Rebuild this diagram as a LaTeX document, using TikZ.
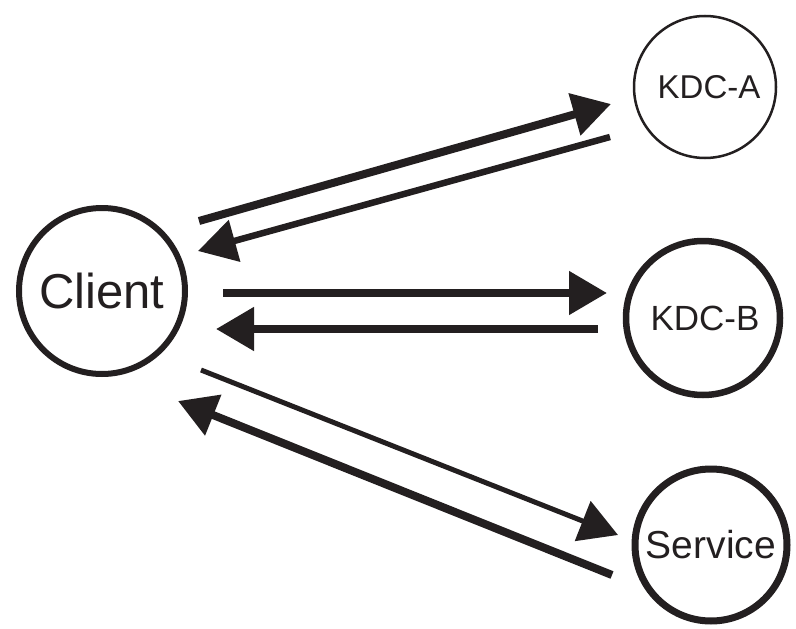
\documentclass[tikz,border=0pt]{standalone}
\usepackage{fontspec}
\setmainfont{Liberation Sans}
\usetikzlibrary{arrows.meta}
\definecolor{ink}{RGB}{35,31,32}
\tikzset{
  host/.style={circle,draw=ink,text=ink,line width=6pt,inner sep=0pt},
  msg/.style={draw=ink,line width=8pt,-{Triangle[length=38pt,width=42pt]}},
}

\begin{document}
\begin{tikzpicture}[x=1pt,y=-1pt]
\useasboundingbox (0,0) rectangle (796,629);
% hosts
\node[host,minimum size=166pt,font=\fontsize{49}{49}\selectfont] (client) at (102,291) {Client};
\node[host,line width=2.5pt,minimum size=142pt,font=\fontsize{33}{33}\selectfont] (kdca) at (705,87) {\hspace{8pt}KDC-A};
\node[host,line width=6.5pt,minimum size=154pt,font=\fontsize{35}{35}\selectfont] (kdcb) at (703,318) {\hspace{4pt}KDC-B};
\node[host,line width=7pt,minimum size=152pt,font=\fontsize{39}{39}\selectfont] (service) at (711,545) {Service};
% ends of the messages
\coordinate (a1s) at ([shift={(97,-70)}]client.center);
\coordinate (a1e) at ([shift={(-94,17)}]kdca.center);
\coordinate (a2s) at ([shift={(-95,50)}]kdca.center);
\coordinate (a2e) at ([shift={(96,-40)}]client.center);
\coordinate (a3s) at ([shift={(121,2)}]client.center);
\coordinate (a3e) at ([shift={(-96,-25)}]kdcb.center);
\coordinate (a4s) at ([shift={(-105,11)}]kdcb.center);
\coordinate (a4e) at ([shift={(114,38)}]client.center);
\coordinate (a5s) at ([shift={(99,79)}]client.center);
\coordinate (a5e) at ([shift={(-93,-10)}]service.center);
\coordinate (a6s) at ([shift={(-99,30)}]service.center);
\coordinate (a6e) at ([shift={(76,110)}]client.center);
% messages
\draw[msg] (a1s) -- (a1e);
\draw[msg,line width=6.5pt] (a2s) -- (a2e);
\draw[msg] (a3s) -- (a3e);
\draw[msg] (a4s) -- (a4e);
\draw[msg,line width=5pt] (a5s) -- (a5e);
\draw[msg] (a6s) -- (a6e);
\end{tikzpicture}
\end{document}
